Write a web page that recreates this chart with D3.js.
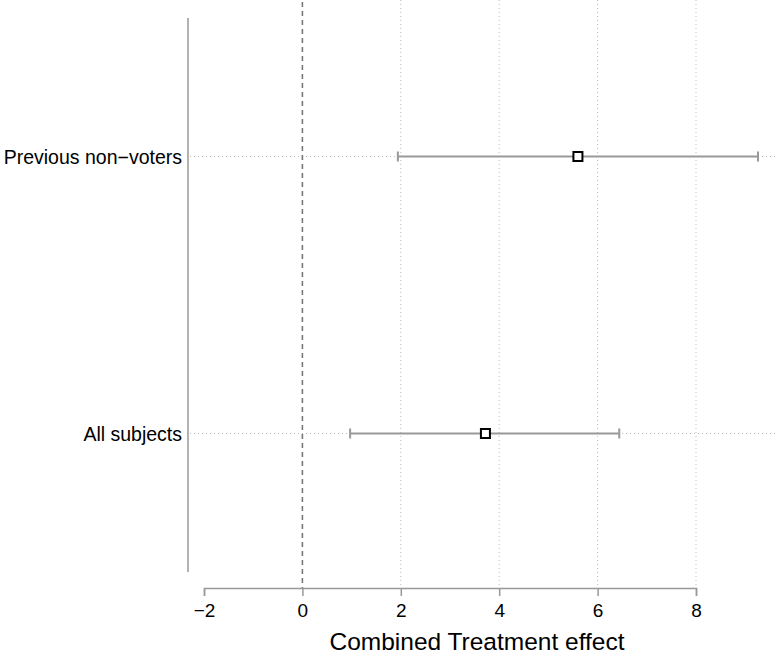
<!DOCTYPE html>
<html>
<head>
<meta charset="utf-8">
<script src="https://cdn.jsdelivr.net/npm/d3@7"></script>
<style>
  body { margin: 0; background: #fff; }
  text { font-family: "Liberation Sans", Arial, Helvetica, sans-serif; }
</style>
</head>
<body>
<div id="chart"></div>
<script>
// Data
var groups = ["Previous non\u2212voters", "All subjects"];
var estimates = [5.60, 3.72];
var lower = [1.94, 0.97];
var upper = [9.26, 6.44];
var xTicks = [-2, 0, 2, 4, 6, 8];

var width = 775, height = 655;

var svg = d3.select("#chart")
    .append("svg")
    .attr("width", width)
    .attr("height", height);

var x = d3.scaleLinear()
    .domain([-2, 8])
    .range([204, 696]);

var y = d3.scalePoint()
    .domain(groups)
    .range([18, 572])
    .padding(0.5);

// vertical dotted grid lines
svg.selectAll(".vgrid")
    .data(xTicks.filter(function (d) { return d > 0; }))
    .enter()
    .append("line")
    .attr("x1", function (d) { return x(d); })
    .attr("x2", function (d) { return x(d); })
    .attr("y1", 0)
    .attr("y2", 588)
    .attr("stroke", "#bbb")
    .attr("stroke-width", 1)
    .attr("stroke-dasharray", "1,3");

// horizontal dotted grid lines
svg.selectAll(".hgrid")
    .data(groups)
    .enter()
    .append("line")
    .attr("x1", 190)
    .attr("x2", width)
    .attr("y1", function (d) { return y(d); })
    .attr("y2", function (d) { return y(d); })
    .attr("stroke", "#bbb")
    .attr("stroke-width", 1)
    .attr("stroke-dasharray", "1,3");

// zero reference line
svg.append("line")
    .attr("x1", x(0))
    .attr("x2", x(0))
    .attr("y1", 2)
    .attr("y2", 588)
    .attr("stroke", "#777")
    .attr("stroke-width", 1.6)
    .attr("stroke-dasharray", "5,4");

// left axis line
svg.append("line")
    .attr("x1", 188)
    .attr("x2", 188)
    .attr("y1", 18)
    .attr("y2", 572)
    .attr("stroke", "#999")
    .attr("stroke-width", 1.5);

// group labels
svg.selectAll(".glabel")
    .data(groups)
    .enter()
    .append("text")
    .attr("x", 182)
    .attr("y", function (d) { return y(d); })
    .attr("dy", "0.36em")
    .attr("text-anchor", "end")
    .attr("font-size", 19.5)
    .attr("fill", "#000")
    .text(function (d) { return d; });

// bottom axis
var xAxis = svg.append("g")
    .attr("transform", "translate(0,588)")
    .call(d3.axisBottom(x)
        .tickValues(xTicks)
        .tickSize(8)
        .tickPadding(8)
        .tickFormat(function (d) { return d < 0 ? "\u2212" + Math.abs(d) : d; }));
xAxis.select(".domain").attr("stroke", "#999").attr("stroke-width", 1.5);
xAxis.selectAll(".tick line").attr("stroke", "#999").attr("stroke-width", 1.5);
xAxis.selectAll(".tick text")
    .attr("font-size", 19)
    .attr("fill", "#000")
    .style("font-family", "'Liberation Sans', Arial, sans-serif");

// axis title
svg.append("text")
    .attr("x", 477)
    .attr("y", 650)
    .attr("text-anchor", "middle")
    .attr("font-size", 24.5)
    .attr("fill", "#000")
    .text("Combined Treatment effect");

// confidence intervals
svg.selectAll(".ci")
    .data(groups)
    .enter()
    .append("line")
    .attr("x1", function (d, i) { return x(lower[i]); })
    .attr("x2", function (d, i) { return x(upper[i]); })
    .attr("y1", function (d) { return y(d); })
    .attr("y2", function (d) { return y(d); })
    .attr("stroke", "#999")
    .attr("stroke-width", 2);

// caps
var caps = [];
groups.forEach(function (g, i) {
    caps.push({ g: g, v: lower[i] });
    caps.push({ g: g, v: upper[i] });
});
svg.selectAll(".cap")
    .data(caps)
    .enter()
    .append("line")
    .attr("x1", function (d) { return x(d.v); })
    .attr("x2", function (d) { return x(d.v); })
    .attr("y1", function (d) { return y(d.g) - 5; })
    .attr("y2", function (d) { return y(d.g) + 5; })
    .attr("stroke", "#999")
    .attr("stroke-width", 2);

// point estimates
svg.selectAll(".pt")
    .data(groups)
    .enter()
    .append("rect")
    .attr("x", function (d, i) { return x(estimates[i]) - 4.5; })
    .attr("y", function (d) { return y(d) - 4.5; })
    .attr("width", 9)
    .attr("height", 9)
    .attr("fill", "#fff")
    .attr("stroke", "#000")
    .attr("stroke-width", 2);
</script>
</body>
</html>
